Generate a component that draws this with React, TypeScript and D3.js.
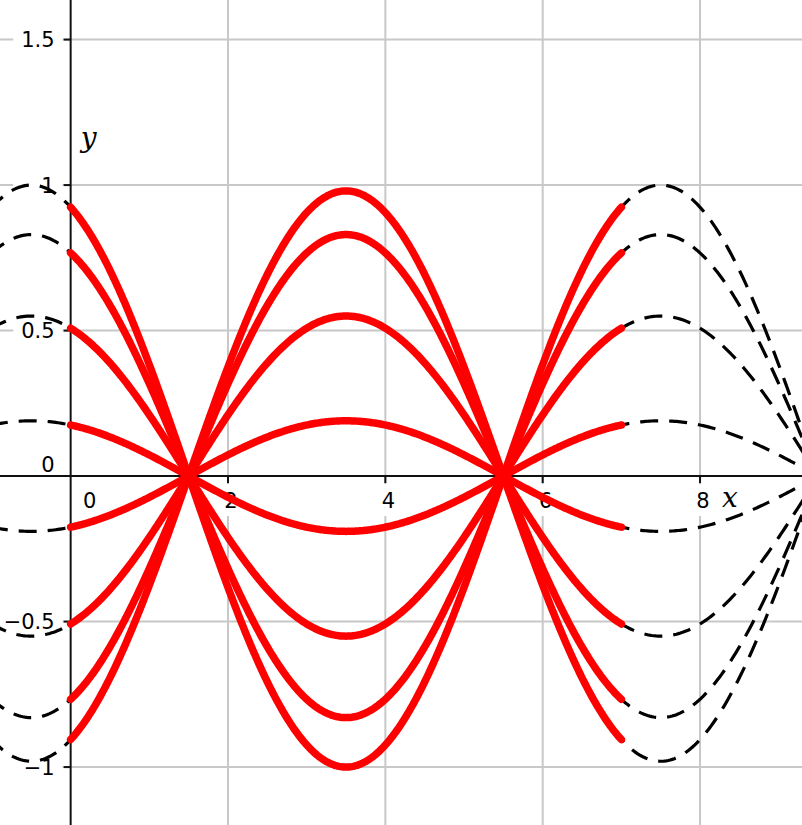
import React from 'react'
import * as d3 from 'd3'

// standing wave snapshots: amplitude of each red curve at the antinode x = 3.5
const amplitudes = [0.98, 0.83, 0.55, 0.19, -0.19, -0.55, -0.83, -1.0]
const wavelength = 8
const antinodeX = 3.5
const solidDomain = [0, 7]

const xTicks = [0, 2, 4, 6, 8]
const yTicks = [-1, -0.5, 0, 0.5, 1, 1.5]
const xView = [-0.898, 9.296]
const yView = [-1.199, 1.636]

const W = 802
const H = 825
const tickFont = 21

const glyphW: Record<string, number> = { '.': 0.318, '−': 0.838, '-': 0.361 }
const textWidth = (s: string) =>
    s.split('').reduce((a, c) => a + (glyphW[c] ?? 0.636), 0) * tickFont

function App() {
    const xScale = d3.scaleLinear().domain(xView).range([0, W])
    const yScale = d3.scaleLinear().domain(yView).range([H, 0])
    const fmt = d3.format('')

    const x0 = xScale(0)
    const y0 = yScale(0)

    const wave = (a: number) => (x: number) => a * Math.cos((2 * Math.PI / wavelength) * (x - antinodeX))

    const sample = (lo: number, hi: number) => d3.range(lo, hi, (hi - lo) / 400).concat([hi])

    const line = d3.line<[number, number]>()
        .x(d => xScale(d[0]))
        .y(d => yScale(d[1]))

    const fullXs = sample(xScale.invert(-10), xScale.invert(W + 10))
    const solidXs = sample(solidDomain[0], solidDomain[1])

    // y labels: white boxes sized by the widest label of the same sign
    const yLabels = yTicks.map(v => ({ v, s: fmt(v), w: textWidth(fmt(v)) }))
    const maxPos = d3.max(yLabels.filter(d => d.v >= 0), d => d.w) as number
    const maxNeg = d3.max(yLabels.filter(d => d.v < 0), d => d.w) as number
    const yLabelRight = x0 - 16

    return (
        <svg width={W} height={H} style={{ position: 'absolute', left: 0, top: 0, background: '#fff' }}>
            {/* grid */}
            <g stroke="#c8c8c8" strokeWidth={2}>
                {xTicks.filter(v => v !== 0).map(v => (
                    <line key={'gx' + v} x1={xScale(v)} x2={xScale(v)} y1={0} y2={H} />
                ))}
                {yTicks.filter(v => v !== 0).map(v => (
                    <line key={'gy' + v} x1={0} x2={W} y1={yScale(v)} y2={yScale(v)} />
                ))}
            </g>

            {/* label backgrounds */}
            <g fill="#fff">
                {yLabels.filter(d => d.v !== 0).map(d => {
                    const bw = (d.v < 0 ? maxNeg : maxPos) + 16
                    return <rect key={'by' + d.v} x={yLabelRight + 8 - bw} y={yScale(d.v) - 13} width={bw} height={26} />
                })}
                {xTicks.filter(v => v !== 0).map(v => {
                    const w = textWidth(fmt(v)) + 16
                    return <rect key={'bx' + v} x={xScale(v) + 3 - w / 2} y={y0 + 8} width={w} height={32} />
                })}
            </g>

            {/* axes */}
            <g stroke="#111" strokeWidth={2}>
                <line x1={0} x2={W} y1={y0} y2={y0} />
                <line x1={x0} x2={x0} y1={0} y2={H} />
                {xTicks.filter(v => v !== 0).map(v => (
                    <line key={'tx' + v} x1={xScale(v)} x2={xScale(v)} y1={y0} y2={y0 + 7} />
                ))}
                {yTicks.filter(v => v !== 0).map(v => (
                    <line key={'ty' + v} x1={x0 - 7} x2={x0} y1={yScale(v)} y2={yScale(v)} />
                ))}
            </g>

            {/* tick labels */}
            <g fontFamily="'DejaVu Sans', sans-serif" fontSize={tickFont} fill="#000">
                {xTicks.map(v => (
                    <text key={'lx' + v} x={v === 0 ? x0 + 19 : xScale(v) + 3} y={y0 + 32} textAnchor="middle">{fmt(v)}</text>
                ))}
                {yLabels.map(d => (
                    <text key={'ly' + d.v} x={yLabelRight} y={d.v === 0 ? y0 - 4 : yScale(d.v) + 7.5} textAnchor="end">{d.s}</text>
                ))}
            </g>

            {/* axis names */}
            <g fontFamily="'DejaVu Serif', serif" fontStyle="italic" fontSize={28} fill="#000">
                <text x={xScale(8) + 22} y={y0 + 31}>x</text>
                <text x={x0 + 10} y={yScale(1.13)}>y</text>
            </g>

            {/* dashed continuation */}
            <g fill="none" stroke="#000" strokeWidth={3.2} strokeDasharray="18 11">
                {amplitudes.map(a => (
                    <path key={'d' + a} d={line(fullXs.map(x => [x, wave(a)(x)]))!} />
                ))}
            </g>

            {/* solid snapshots */}
            <g fill="none" stroke="#ff0000" strokeWidth={7.5} strokeLinecap="round" strokeLinejoin="round">
                {amplitudes.map(a => (
                    <path key={'s' + a} d={line(solidXs.map(x => [x, wave(a)(x)]))!} />
                ))}
            </g>
        </svg>
    )
}

export default App
